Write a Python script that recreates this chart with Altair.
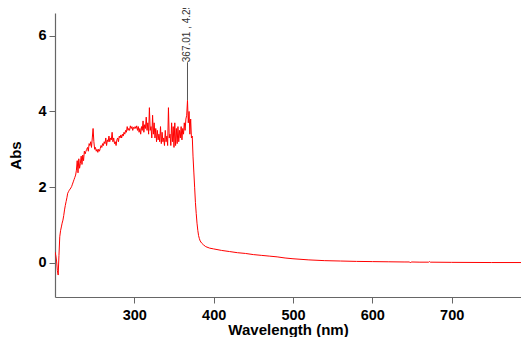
import altair as alt
import pandas as pd

# Wavelength (nm) and absorbance
wl_noisy = list(range(200, 384))
abs_noisy = [
    0.29, 0.2, 0.05, -0.2, -0.32, 0.2, 0.69, 0.85, 0.95, 1.05,      # 200-209
    1.13, 1.25, 1.4, 1.52, 1.62, 1.72, 1.84, 1.88, 1.92, 1.95,       # 210-219
    1.98, 2.02, 2.08, 2.14, 2.2, 2.26, 2.32, 2.45, 2.7, 2.38,        # 220-229
    2.75, 2.5, 2.63, 2.82, 2.6, 2.85, 2.7, 2.95, 2.88, 2.95,         # 230-239
    3.0, 3.05, 2.95, 3.15, 3.1, 3.2, 3.05, 3.3, 3.55, 3.2,           # 240-249
    3.0, 3.05, 2.95, 3.0, 2.92, 3.0, 2.95, 3.02, 3.1, 3.05,          # 250-259
    3.15, 3.1, 3.2, 3.15, 3.3, 3.1, 3.25, 3.2, 3.35, 3.2,            # 260-269
    3.3, 3.25, 3.45, 3.2, 3.3, 3.15, 3.2, 3.1, 3.25, 3.3,            # 270-279
    3.2, 3.35, 3.3, 3.38, 3.3, 3.4, 3.35, 3.45, 3.4, 3.5,            # 280-289
    3.45, 3.6, 3.5, 3.55, 3.5, 3.62, 3.55, 3.6, 3.5, 3.58,           # 290-299
    3.55, 3.6, 3.55, 3.62, 3.5, 3.6, 3.45, 3.55, 3.4, 3.6,           # 300-309
    3.5, 3.75, 3.45, 3.65, 3.55, 3.85, 3.5, 3.7, 3.4, 4.1,           # 310-319
    3.5, 3.6, 3.3, 3.9, 3.4, 3.7, 3.3, 3.55, 3.2, 3.5,               # 320-329
    3.25, 3.4, 3.2, 3.6, 3.15, 3.45, 3.2, 3.3, 3.1, 3.5,             # 330-339
    3.2, 3.35, 3.1, 4.1, 3.3, 3.4, 3.1, 3.7, 3.2, 3.6,               # 340-349
    3.05, 3.7, 3.1, 3.55, 3.15, 3.6, 3.2, 3.5, 3.3, 3.6,             # 350-359
    3.25, 3.55, 3.4, 3.7, 3.5, 3.8, 3.9, 4.29, 3.7, 4.0,             # 360-369
    3.4, 3.8, 3.3, 3.35, 2.8, 2.4, 2.0, 1.6, 1.31, 1.05,             # 370-379
    0.86, 0.72, 0.64, 0.58,                                          # 380-383
]
wl_tail = [385, 387, 390, 395, 400, 410, 420, 430, 440, 450, 460, 470, 480,
           490, 500, 520, 540, 560, 580, 600, 620, 640, 647, 648, 649, 660,
           671, 672, 673, 700, 750, 800]
abs_tail = [0.52, 0.48, 0.43, 0.39, 0.37, 0.33, 0.30, 0.27, 0.25, 0.22, 0.20,
            0.18, 0.16, 0.13, 0.11, 0.08, 0.06, 0.05, 0.04, 0.035, 0.03, 0.025,
            0.025, 0.0, 0.025, 0.02, 0.02, 0.035, 0.02, 0.015, 0.01, 0.01]

peak_wl = [367.01]
peak_abs = [4.29]
peak_top = [5.3]
peak_label = ["367.01 , 4.29"]

df = pd.DataFrame({"wl": wl_noisy + wl_tail, "abs": abs_noisy + abs_tail})
ann = pd.DataFrame({"wl": peak_wl, "abs": peak_abs, "top": peak_top, "label": peak_label})

x_scale = alt.Scale(domain=[200, 787.4], nice=False, zero=False)
y_scale = alt.Scale(domain=[-0.9, 6.6], nice=False, zero=False)

x_axis = alt.Axis(title="Wavelength (nm)", values=[300, 400, 500, 600, 700],
                  grid=False, labelPadding=5, titlePadding=1)
y_axis = alt.Axis(title="Abs", values=[0, 2, 4, 6], grid=False,
                  labelPadding=3, titlePadding=14)

line = alt.Chart(df).mark_line(color="#ff0000", strokeWidth=1, clip=True).encode(
    x=alt.X("wl:Q", scale=x_scale, axis=x_axis),
    y=alt.Y("abs:Q", scale=y_scale, axis=y_axis),
)

rule = alt.Chart(ann).mark_rule(color="#555555", strokeWidth=1).encode(
    x="wl:Q", y="abs:Q", y2="top:Q"
)

text = alt.Chart(ann).mark_text(angle=270, align="left", baseline="middle",
                                fontSize=10, font="Liberation Sans",
                                color="#333333").encode(
    x="wl:Q", y="top:Q", text="label:N"
)

chart = alt.layer(rule, line, text).properties(
    width=466, height=284,
    autosize=alt.AutoSizeParams(type="none"),
    padding={"left": 47, "top": 5, "right": 0, "bottom": 40},
).configure_view(stroke=None).configure_axis(
    labelFont="Liberation Sans", titleFont="Liberation Sans",
    labelFontSize=14.5, titleFontSize=15, labelFontWeight="bold",
    titleFontWeight="bold", labelColor="#000000", titleColor="#000000",
    domainColor="#666666", tickColor="#666666", tickSize=6, domainWidth=1.2,
)

chart.save("out.html", embed_options={"renderer": "svg", "actions": False})
